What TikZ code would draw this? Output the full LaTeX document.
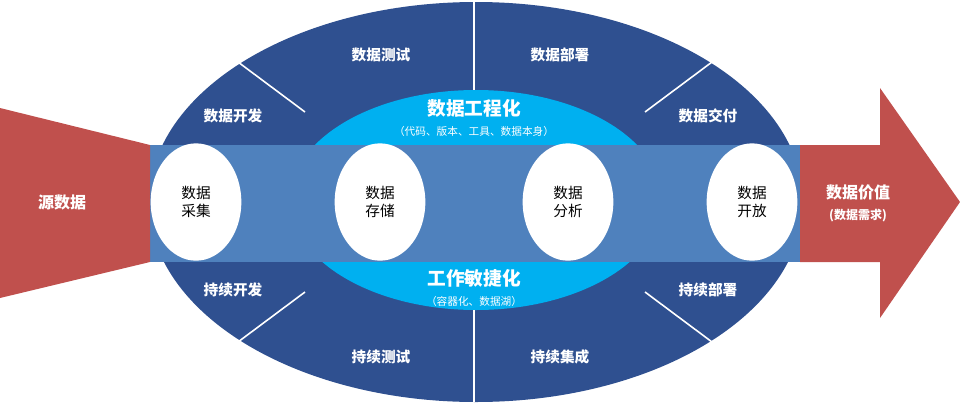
\documentclass[tikz,border=0pt]{standalone}
\usepackage{fontspec}
\setmainfont{Noto Sans CJK SC}
\usetikzlibrary{positioning}
\definecolor{outerblue}{HTML}{2F5090}
\definecolor{innercyan}{HTML}{00B0F0}
\definecolor{bandblue}{HTML}{4F81BD}
\definecolor{arrowred}{HTML}{C0504D}
\tikzset{
  seglabel/.style={text=white,font=\bfseries\fontsize{11}{13}\selectfont},
  stagenode/.style={ellipse,fill=white,minimum width=68pt,minimum height=88pt,inner sep=0pt,
    align=center,font=\fontsize{11}{13}\selectfont},
  divider/.style={white,line width=1.2pt}
}
\usetikzlibrary{shapes.geometric}
\begin{document}
\begin{tikzpicture}[x=0.75pt,y=-0.75pt]
\useasboundingbox (0,0) rectangle (960,404);
% outer ring
\fill[outerblue] (476,202) ellipse [x radius=327,y radius=200];
\draw[divider] (474,2) -- (474,95);
\draw[divider] (474,310) -- (474,402);
\draw[divider] (238,62) -- (305,112);
\draw[divider] (712,62) -- (645,112);
\draw[divider] (238,342) -- (305,292);
\draw[divider] (712,342) -- (645,292);
\fill[innercyan] (476,200) ellipse [x radius=186,y radius=110];
% band and arrows
\fill[bandblue] (148,145) rectangle (802,262);
\fill[arrowred] (0,108) -- (150,145) -- (150,262) -- (0,298) -- cycle;
\fill[arrowred] (800,145) -- (880,145) -- (880,88) -- (960,202) -- (880,318) -- (880,262) -- (800,262) -- cycle;
% stages
\node[stagenode] (collect) at (196,202) {数据\\采集};
\node[stagenode] (store) at (380,202) {数据\\存储};
\node[stagenode] (analyse) at (568,202) {数据\\分析};
\node[stagenode] (open) at (752,202) {数据\\开放};
% ring labels
\node[seglabel] (devA) at (233,116) {数据开发};
\node[seglabel] (testA) at (381,55) {数据测试};
\node[seglabel] (deployA) at (560,55) {数据部署};
\node[seglabel] (deliverA) at (708,116) {数据交付};
\node[seglabel] (devB) at (233,290) {持续开发};
\node[seglabel] (testB) at (381,357) {持续测试};
\node[seglabel] (integB) at (560,357) {持续集成};
\node[seglabel] (deployB) at (708,290) {持续部署};
% centre titles
\node[text=white,font=\bfseries\fontsize{14}{16}\selectfont] (eng) at (474,108) {数据工程化};
\node[text=white,font=\fontsize{8}{10}\selectfont,below=0pt of eng] (engsub) {（代码、版本、工具、数据本身）};
\node[text=white,font=\bfseries\fontsize{14}{16}\selectfont] (agile) at (474,278) {工作敏捷化};
\node[text=white,font=\fontsize{8}{10}\selectfont,below=0pt of agile] (agilesub) {（容器化、数据湖）};
% ends
\node[seglabel,font=\bfseries\fontsize{12}{14}\selectfont] (source) at (62,202) {源数据};
\node[seglabel,font=\bfseries\fontsize{12}{14}\selectfont] (value) at (858,192) {数据价值};
\node[seglabel,font=\bfseries\fontsize{9}{11}\selectfont,below=0pt of value] (need) {(数据需求)};
\end{tikzpicture}
\end{document}
